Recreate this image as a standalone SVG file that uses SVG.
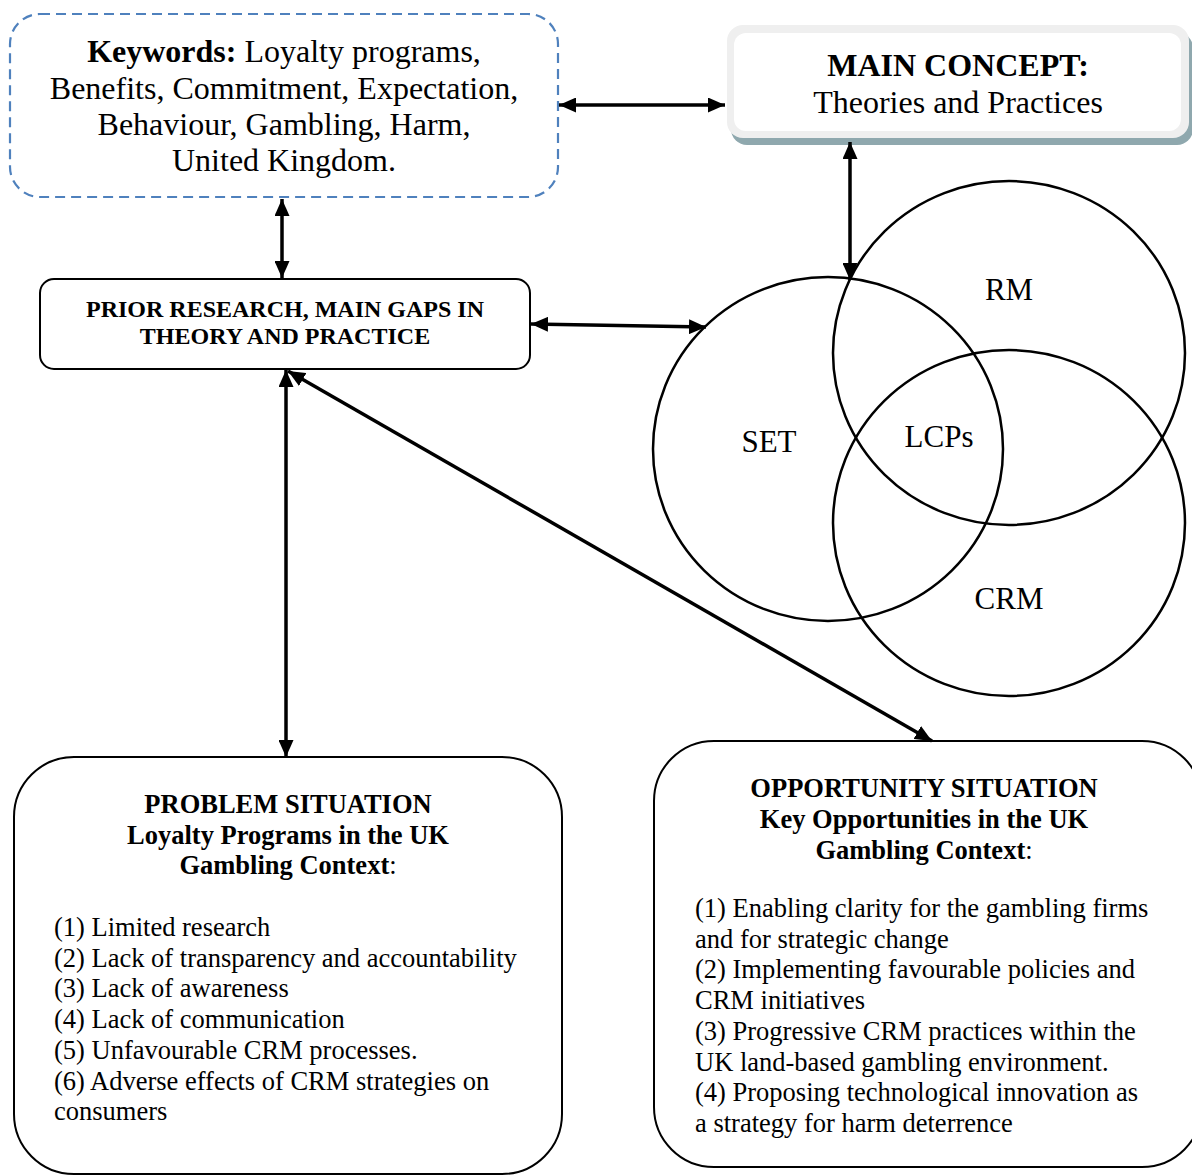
<svg xmlns="http://www.w3.org/2000/svg" width="1192" height="1176" viewBox="0 0 1192 1176">
  <style>
    text { font-family: "Liberation Serif", "Times New Roman", serif; fill: #000; }
    .kw { font-size: 32px; text-anchor: middle; }
    .mc { font-size: 32px; text-anchor: middle; }
    .pr { font-size: 24px; font-weight: bold; text-anchor: middle; }
    .venn-label { font-size: 31px; text-anchor: middle; }
    .hdr { font-size: 26.5px; font-weight: bold; text-anchor: middle; }
    .item { font-size: 26.5px; }
    .box { fill: #fff; stroke: #000; stroke-width: 2; }
    .venn { fill: none; stroke: #000; stroke-width: 2.5; }
    .conn { fill: none; stroke: #000; stroke-width: 3.5; marker-start: url(#head); marker-end: url(#head); }
  </style>
  <defs>
    <marker id="head" viewBox="0 0 17 15" refX="17" refY="7.5" markerWidth="17" markerHeight="15" markerUnits="userSpaceOnUse" orient="auto-start-reverse">
      <path d="M0,0 L17,7.5 L0,15 Z" fill="#000"/>
    </marker>
  </defs>

  <rect width="1192" height="1176" fill="#fff"/>

  <!-- Keywords -->
  <g id="keywords">
    <rect x="10" y="14" width="548" height="183" rx="30" fill="#fff" stroke="#4f81bd" stroke-width="2.2" stroke-dasharray="10 6"/>
    <text class="kw" x="284" y="62"><tspan font-weight="bold">Keywords:</tspan> Loyalty programs,</text>
    <text class="kw" x="284" y="99">Benefits, Commitment, Expectation,</text>
    <text class="kw" x="284" y="135">Behaviour, Gambling, Harm,</text>
    <text class="kw" x="284" y="171">United Kingdom.</text>
  </g>

  <!-- Main concept -->
  <g id="main-concept">
    <rect x="731" y="32" width="462" height="113" rx="16" fill="#8fa8ae"/>
    <rect x="727" y="25" width="462" height="113" rx="16" fill="#efefef"/>
    <rect x="734" y="33" width="447" height="98" rx="12" fill="#fff"/>
    <text class="mc" x="958" y="76" font-weight="bold">MAIN CONCEPT:</text>
    <text class="mc" x="958" y="113">Theories and Practices</text>
  </g>

  <!-- Prior research -->
  <g id="prior-research">
    <rect class="box" x="40" y="279" width="490" height="90" rx="14"/>
    <text class="pr" x="285" y="317">PRIOR RESEARCH, MAIN GAPS IN</text>
    <text class="pr" x="285" y="344">THEORY AND PRACTICE</text>
  </g>

  <!-- Venn diagram -->
  <g id="venn">
    <ellipse class="venn" cx="828" cy="449" rx="175" ry="172"/>
    <ellipse class="venn" cx="1009" cy="353" rx="176" ry="172"/>
    <ellipse class="venn" cx="1009" cy="523" rx="176" ry="173"/>
    <text class="venn-label" x="1009" y="300">RM</text>
    <text class="venn-label" x="769" y="452">SET</text>
    <text class="venn-label" x="939" y="447">LCPs</text>
    <text class="venn-label" x="1009" y="609">CRM</text>
  </g>

  <!-- Problem situation -->
  <g id="problem">
    <rect class="box" x="14" y="757" width="548" height="417" rx="60"/>
    <text class="hdr" x="288" y="813">PROBLEM SITUATION</text>
    <text class="hdr" x="288" y="844">Loyalty Programs in the UK</text>
    <text class="hdr" x="288" y="874">Gambling Context<tspan font-weight="normal">:</tspan></text>
    <text class="item" x="54" y="936">(1) Limited research</text>
    <text class="item" x="54" y="966.7">(2) Lack of transparency and accountability</text>
    <text class="item" x="54" y="997.4">(3) Lack of awareness</text>
    <text class="item" x="54" y="1028.1">(4) Lack of communication</text>
    <text class="item" x="54" y="1058.8">(5) Unfavourable CRM processes.</text>
    <text class="item" x="54" y="1089.5">(6) Adverse effects of CRM strategies on</text>
    <text class="item" x="54" y="1120.2">consumers</text>
  </g>

  <!-- Opportunity situation -->
  <g id="opportunity">
    <rect class="box" x="654" y="741" width="548" height="426" rx="60"/>
    <text class="hdr" x="924" y="797">OPPORTUNITY SITUATION</text>
    <text class="hdr" x="924" y="828">Key Opportunities in the UK</text>
    <text class="hdr" x="924" y="859">Gambling Context<tspan font-weight="normal">:</tspan></text>
    <text class="item" x="695" y="917">(1) Enabling clarity for the gambling firms</text>
    <text class="item" x="695" y="947.7">and for strategic change</text>
    <text class="item" x="695" y="978.4">(2) Implementing favourable policies and</text>
    <text class="item" x="695" y="1009.1">CRM initiatives</text>
    <text class="item" x="695" y="1039.8">(3) Progressive CRM practices within the</text>
    <text class="item" x="695" y="1070.5">UK land-based gambling environment.</text>
    <text class="item" x="695" y="1101.2">(4) Proposing technological innovation as</text>
    <text class="item" x="695" y="1131.9">a strategy for harm deterrence</text>
  </g>

  <!-- Connectors -->
  <g id="connectors">
    <line class="conn" x1="559" y1="105" x2="725" y2="105"/>
    <line class="conn" x1="282" y1="199" x2="282" y2="278"/>
    <line class="conn" x1="850" y1="142" x2="850" y2="280"/>
    <line class="conn" x1="531" y1="324" x2="706" y2="327"/>
    <line class="conn" x1="286" y1="370" x2="286" y2="757"/>
    <line class="conn" x1="288" y1="371" x2="932" y2="741"/>
  </g>
</svg>
